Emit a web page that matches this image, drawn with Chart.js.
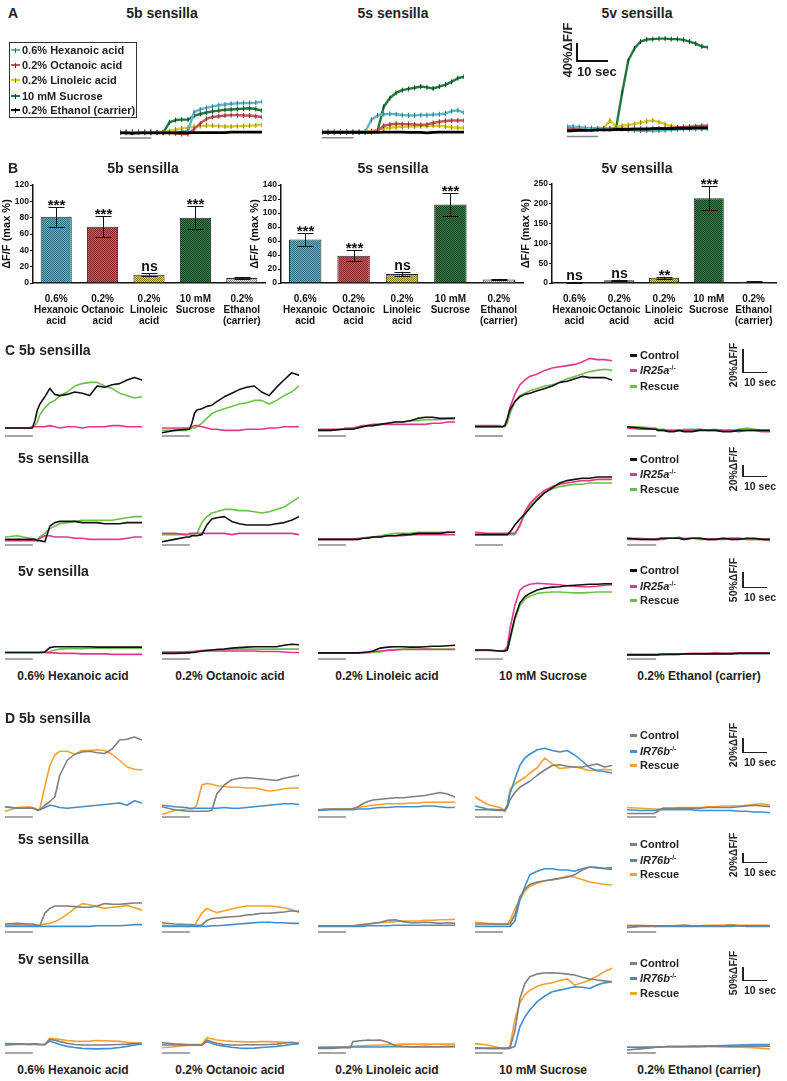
<!DOCTYPE html>
<html>
<head>
<meta charset="utf-8">
<script src="https://cdn.jsdelivr.net/npm/chart.js@4.4.0/dist/chart.umd.min.js"></script>
<style>
  body { margin: 0; width: 787px; height: 1081px; position: relative; background: #fff; overflow: hidden;
         font-family: "Liberation Sans", Arial, sans-serif; color: #222; }
  canvas { position: absolute; }
  .lbl { position: absolute; font-weight: bold; white-space: nowrap; line-height: 1; z-index: 2; }
  .lbl sup { font-size: 0.6em; vertical-align: 0.5em; }
  .rect { position: absolute; z-index: 2; }
</style>
</head>
<body>
<script>
// ---------- time axes (seconds) ----------
const timeA = [0, 2, 4, 6, 8, 10, 12, 14, 16, 18, 20, 22, 24, 26, 28, 30, 32, 34, 36, 38, 40, 42, 44, 46];
const timeTrace = [0, 5, 10, 11, 12, 13, 14, 16, 18, 20, 22, 25, 28, 31, 34, 37, 40, 43, 46, 49, 52, 55];
const stimWindowA = [0, 10];
const stimWindowTrace = [0, 11];

// ---------- panel A: mean traces (dF/F %) ----------
const stimulusNames = ['0.6% Hexanoic acid', '0.2% Octanoic acid', '0.2% Linoleic acid', '10 mM Sucrose', '0.2% Ethanol (carrier)'];
const a5bHex = [2, 2, 2, 2, 2, 2, 1, 2, 1, 2, 3, 5, 55, 62, 66, 70, 73, 75, 77, 78, 79, 79, 80, 82];
const a5bOct = [2, 2, 2, 2, 2, 2, 1, 1, 0, -1, -3, -3, 10, 25, 37, 42, 44, 46, 47, 47, 46, 46, 44, 42];
const a5bLin = [0, 0, 0, 0, 0, 0, 0, 2, 5, 9, 12, 14, 16, 18, 20, 19, 18, 17, 17, 18, 18, 19, 20, 21];
const a5bSuc = [2, 2, 2, 2, 2, 2, 2, 0, 28, 34, 35, 35, 45, 50, 54, 57, 59, 61, 62, 63, 64, 65, 63, 59];
const a5bEth = [0, 0, -1, 0, 0, 0, 0, 0, 0, 0, 1, 0, 1, 1, 1, 1, 1, 1, 2, 2, 2, 2, 2, 2];

const a5sHex = [1, 1, 1, 1, 1, 1, 1, 1, 32, 43, 46, 47, 46, 44, 43, 43, 44, 44, 45, 46, 48, 54, 56, 50];
const a5sOct = [1, 1, 1, 1, 1, 1, 1, 1, 1, 5, 17, 20, 22, 21, 21, 20, 19, 20, 24, 27, 29, 30, 30, 30];
const a5sLin = [0, 0, 0, 0, 0, 0, 0, 2, 4, 7, 10, 12, 13, 14, 15, 15, 16, 16, 17, 17, 15, 13, 12, 12];
const a5sSuc = [1, 1, 1, 1, 1, 1, 1, 1, 1, 5, 65, 87, 100, 107, 110, 113, 116, 114, 111, 116, 121, 128, 137, 141];
const a5sEth = [0, 0, 0, 0, 0, 0, 0, 0, 0, 0, 1, 1, 1, 1, 0, 0, 0, -1, 0, 1, 1, 1, 1, 1];

const a5vHex = [7, 6, 5, 3, 2, 1, 1, 1, 1, 0, -2, -3, -4, -4, -4, -4, -3, -2, -1, 0, 0, 0, 0, 0];
const a5vOct = [2, 2, 2, 1, 1, 1, 1, 1, 1, 1, 1, 1, 1, 1, 1, 2, 2, 3, 4, 5, 6, 7, 8, 8];
const a5vLin = [0, 0, 0, 0, 0, 0, 2, 21, 5, 8, 10, 12, 16, 19, 21, 17, 12, 7, 4, 3, 2, 2, 2, 2];
const a5vSuc = [0, 0, 0, 0, 0, 0, 0, 0, 2, 88, 166, 195, 212, 217, 218, 219, 219, 218, 218, 216, 212, 207, 200, 198];
const a5vEth = [-4, -4, -3, -3, -3, -2, -2, -2, -1, -1, -1, 0, 0, 0, 1, 1, 1, 1, 2, 2, 2, 3, 3, 3];

// ---------- panel B: max dF/F (%) ----------
const barLabels = [['0.6%', 'Hexanoic', 'acid'], ['0.2%', 'Octanoic', 'acid'], ['0.2%', 'Linoleic', 'acid'], ['10 mM', 'Sucrose'], ['0.2%', 'Ethanol', '(carrier)']];
const b5bMean = [81, 69, 10, 80, 6];
const b5bSem = [12, 12.5, 2, 14, 1];
const b5bSig = ['***', '***', 'ns', '***', ''];
const b5sMean = [62, 39, 13, 112, 5];
const b5sSem = [9, 7.5, 3, 16, 1];
const b5sSig = ['***', '***', 'ns', '***', ''];
const b5vMean = [2, 7, 13, 214, 3];
const b5vSem = [1, 1.5, 3, 30, 1];
const b5vSig = ['ns', 'ns', '**', '***', ''];

// ---------- panel C: Control / IR25a-/- / Rescue (one sub-array per stimulus) ----------
const c5bControl = [
  [0, 0, 0, 0, 6, 15, 20, 26, 33, 28, 27, 28, 30, 29, 27, 35, 34, 36, 37, 40, 42, 40],
  [-4, -2, -1, -1, 4, 12, 15, 16, 18, 19, 22, 26, 29, 32, 34, 35, 30, 27, 34, 40, 46, 44],
  [-2, -2, -1, -1, -1, -1, -1, 0, 1, 2, 2, 3, 4, 5, 5, 6, 8, 9, 9, 8, 8, 8],
  [1, 1, 1, 1, 2, 8, 15, 22, 26, 28, 29, 31, 33, 35, 38, 39, 41, 43, 42, 42, 42, 40],
  [1, 0, -1, -1, -2, -2, -2, -3, -3, -2, -3, -3, -2, -2, -2, -3, -3, -2, -2, -2, -2, -2]
];
const c5bMutant = [
  [0, 0, 0, 1, 1, 1, 1, 1, 2, 1, 0, 1, 1, 0, 1, 1, 1, 2, 2, 1, 1, 1],
  [0, 0, 0, 0, 1, 2, 2, 1, 0, -1, -1, -2, -2, -2, -1, -1, -1, 0, 0, 1, 1, 1],
  [-1, -1, -1, 0, 0, 0, 0, 1, 2, 2, 3, 3, 3, 3, 3, 3, 3, 3, 4, 4, 5, 5],
  [2, 2, 2, 1, 2, 8, 17, 28, 36, 40, 43, 45, 48, 50, 51, 52, 53, 55, 58, 57, 57, 56],
  [0, -1, -1, -1, -2, -2, -2, -2, -2, -2, -2, -2, -1, -2, -2, -2, -2, -3, -2, -2, -3, -3]
];
const c5bRescue = [
  [0, 0, 0, 1, 2, 5, 11, 17, 21, 23, 27, 30, 35, 37, 38, 38, 35, 33, 29, 27, 25, 26],
  [-2, -2, -2, -1, 0, 0, 1, 4, 8, 12, 14, 16, 18, 20, 21, 23, 23, 20, 23, 27, 30, 35],
  [-2, -2, -1, -1, -1, -1, 0, 0, 1, 2, 2, 3, 4, 5, 5, 6, 6, 7, 7, 7, 8, 8],
  [1, 1, 1, 1, 1, 4, 12, 22, 27, 29, 31, 33, 35, 36, 38, 41, 43, 45, 47, 48, 49, 48],
  [1, 1, 0, 0, -1, -1, -1, -2, -2, -2, -1, -1, -1, -2, -1, -2, -2, -1, 0, -1, -2, -2]
];
const c5sControl = [
  [-2, -2, -2, -2, -2, -3, -3, -4, 9, 12, 13, 13, 13, 12, 12, 12, 11, 11, 11, 12, 12, 12],
  [-4, -2, 0, 0, 1, 1, 1, 2, 10, 15, 16, 17, 13, 11, 10, 10, 10, 10, 11, 12, 14, 17],
  [-2, -2, -2, -2, -2, -2, -2, -2, -1, -1, 0, 0, 1, 1, 2, 2, 3, 3, 3, 3, 4, 4],
  [2, 2, 2, 2, 2, 2, 4, 10, 15, 19, 24, 31, 37, 41, 45, 47, 48, 49, 49, 50, 50, 50],
  [-1, -2, -2, -2, -2, -1, -1, -1, -1, -1, -2, -1, -1, -2, -2, -1, -2, -2, -1, -1, -2, -2]
];
const c5sMutant = [
  [-3, -3, -3, -3, -3, -3, -1, 1, 1, 0, 0, 0, -1, -1, -2, -2, -2, -2, -2, -1, 0, 0],
  [3, 3, 2, 3, 3, 3, 3, 3, 3, 3, 3, 3, 2, 3, 3, 3, 3, 3, 3, 3, 3, 2],
  [-2, -2, -2, -2, -2, -2, -2, -2, -1, -1, 0, 0, 1, 1, 1, 2, 2, 2, 2, 2, 2, 2],
  [4, 3, 3, 3, 3, 3, 3, 3, 10, 21, 28, 34, 39, 42, 44, 45, 46, 47, 47, 48, 48, 48],
  [-2, -2, -2, -2, -2, -2, -2, -1, -1, -1, -2, -1, -1, -2, -2, -2, -1, -1, -2, -2, -2, -2]
];
const c5sRescue = [
  [0, 1, -1, -1, -2, -2, 0, 3, 7, 9, 11, 12, 13, 14, 14, 14, 14, 14, 15, 16, 17, 17],
  [2, 2, 2, 2, 2, 2, 3, 12, 17, 20, 21, 23, 23, 22, 22, 21, 20, 21, 23, 25, 29, 33],
  [-2, -2, -2, -2, -2, -2, -2, -1, -1, 0, 0, 1, 2, 3, 3, 3, 4, 4, 4, 4, 4, 4],
  [2, 2, 2, 2, 2, 2, 2, 2, 9, 19, 26, 32, 37, 40, 42, 43, 44, 44, 45, 45, 45, 45],
  [-1, -1, -2, -2, -1, -1, -1, -1, -1, 0, -1, -1, -2, -2, -2, -1, -1, -1, -2, -2, -2, -3]
];
const c5vControl = [
  [-3, -3, -3, -3, -3, -3, -3, -2, 7, 9, 9, 9, 9, 9, 9, 8, 8, 8, 8, 8, 8, 8],
  [-5, -5, -4, -4, -3, -3, -2, 0, 1, 2, 3, 4, 6, 7, 8, 9, 9, 9, 9, 12, 14, 13],
  [-4, -4, -4, -4, -4, -4, -4, -4, -3, -2, 0, 6, 8, 9, 9, 8, 8, 9, 10, 10, 11, 12],
  [2, 2, 0, 0, 0, 2, 25, 70, 100, 113, 120, 127, 131, 133, 134, 136, 137, 138, 139, 139, 140, 140],
  [-8, -8, -8, -8, -8, -7, -7, -7, -7, -7, -6, -6, -6, -6, -6, -6, -6, -5, -5, -5, -5, -5]
];
const c5vMutant = [
  [-3, -3, -3, -3, -3, -3, -3, -3, -4, -4, -5, -5, -5, -6, -6, -6, -6, -7, -7, -7, -7, -7],
  [-2, -2, -2, -1, -1, -1, 0, 0, 0, 0, 0, 0, 0, 0, 0, 0, -1, -1, -1, -2, -3, -3],
  [-4, -4, -4, -4, -4, -4, -4, -4, -3, -2, -1, 0, 1, 2, 3, 3, 3, 4, 3, 3, 3, 3],
  [1, 2, 0, 0, 2, 10, 45, 95, 127, 135, 139, 141, 140, 139, 138, 136, 135, 134, 134, 135, 137, 138],
  [-7, -7, -7, -7, -7, -7, -7, -6, -6, -6, -6, -5, -5, -5, -4, -5, -5, -4, -4, -4, -4, -4]
];
const c5vRescue = [
  [-3, -3, -3, -3, -3, -3, -3, -3, -1, 2, 4, 5, 5, 5, 6, 6, 6, 6, 6, 6, 6, 6],
  [-3, -3, -2, -2, -2, -1, 0, 1, 2, 2, 3, 3, 3, 4, 4, 4, 4, 4, 4, 4, 4, 4],
  [-4, -4, -4, -4, -4, -4, -4, -4, -4, -4, -3, -2, 2, 3, 4, 4, 4, 4, 4, 4, 4, 4],
  [1, 1, 0, 0, 0, 2, 22, 65, 95, 108, 114, 120, 122, 123, 123, 122, 121, 121, 122, 123, 123, 123],
  [-8, -8, -8, -8, -7, -7, -7, -7, -7, -6, -6, -6, -6, -6, -6, -5, -5, -5, -5, -5, -5, -5]
];

// ---------- panel D: Control / IR76b-/- / Rescue ----------
const d5bControl = [
  [3, 1, 1, 1, 1, -2, -1, 5, 10, 16, 45, 65, 73, 76, 77, 75, 74, 80, 92, 93, 96, 92],
  [3, -1, -3, -3, -3, -3, -3, -3, -3, -2, 20, 32, 39, 41, 42, 41, 40, 39, 38, 41, 43, 45],
  [-1, 0, 0, 0, 0, 0, 0, 3, 7, 10, 12, 13, 14, 15, 15, 16, 17, 18, 20, 22, 20, 16],
  [-1, -1, -2, -2, -2, 2, 12, 22, 29, 33, 37, 45, 52, 58, 59, 57, 56, 56, 58, 60, 56, 58],
  [-6, -6, -6, -5, -3, 0, 1, 1, 1, 1, 1, 1, 1, 2, 2, 2, 2, 3, 4, 5, 4, 3]
];
const d5bMutant = [
  [3, 1, 1, 1, 0, -1, -1, 2, 5, 4, 2, 1, 2, 3, 4, 5, 6, 7, 8, 5, 11, 8],
  [5, 3, 2, 1, 1, 1, 1, 1, 1, 1, 1, 2, 1, 1, 2, 3, 4, 5, 6, 7, 7, 6],
  [-2, -1, -1, -1, -1, -1, -1, 0, 0, 0, 1, 2, 2, 3, 3, 3, 3, 4, 4, 3, 2, 2],
  [4, 0, -1, -1, -1, 5, 20, 40, 58, 68, 73, 79, 81, 78, 76, 78, 72, 64, 55, 51, 50, 48],
  [-1, -2, -2, -2, -1, -1, -1, -1, -1, -1, -1, -1, -2, -2, -2, -2, -2, -3, -3, -4, -4, -5]
];
const d5bRescue = [
  [-3, 2, 3, 2, 0, -1, 0, 30, 58, 72, 77, 77, 73, 78, 78, 79, 78, 73, 65, 56, 53, 52],
  [-7, -2, 0, 0, 0, 1, 6, 32, 34, 33, 31, 30, 29, 29, 28, 28, 26, 24, 25, 27, 28, 28],
  [-1, 0, 0, 0, 0, 0, 1, 2, 3, 4, 5, 6, 7, 7, 7, 8, 8, 9, 9, 9, 9, 9],
  [16, 6, 2, 0, -4, 5, 26, 33, 38, 42, 48, 55, 68, 60, 54, 55, 56, 54, 51, 52, 53, 52],
  [2, 1, 0, 0, 0, 0, 1, 1, 1, 2, 2, 2, 2, 3, 3, 4, 4, 4, 5, 6, 7, 5]
];
const d5sControl = [
  [0, 1, 0, 0, -1, -2, -3, 18, 26, 30, 30, 30, 29, 28, 28, 30, 34, 33, 33, 34, 35, 35],
  [2, 0, -1, -1, -1, -2, -2, -2, 6, 9, 10, 11, 12, 13, 15, 16, 18, 18, 19, 20, 22, 21],
  [-3, -3, -3, -3, -3, -3, -3, -2, -1, 0, 1, 3, 6, 7, 4, 2, 2, 3, 2, 1, 2, 1],
  [0, 0, 0, 0, 0, 0, 0, 15, 45, 58, 66, 70, 72, 74, 76, 78, 82, 90, 95, 94, 93, 94],
  [-6, -4, -4, -4, -3, -3, -3, -3, -3, -3, -2, -3, -3, -3, -3, -3, -2, -3, -3, -3, -3, -3]
];
const d5sMutant = [
  [-4, -4, -4, -4, -4, -4, -4, -4, -4, -4, -4, -4, -4, -4, -4, -3, -3, -3, -3, -2, -1, -1],
  [-4, -4, -4, -4, -4, -4, -4, -4, -4, -3, -3, -2, -1, 0, 1, 2, 3, 3, 2, 2, 1, 1],
  [-4, -4, -4, -4, -4, -4, -4, -4, -4, -3, -3, -3, -3, -2, -2, -2, -2, -2, -2, -2, -2, -2],
  [-4, -4, -4, -4, -4, -4, -4, 5, 40, 62, 82, 88, 92, 92, 90, 90, 88, 92, 95, 94, 92, 91],
  [-3, -3, -3, -4, -4, -4, -4, -4, -4, -4, -4, -4, -4, -4, -4, -4, -4, -3, -4, -4, -4, -4]
];
const d5sRescue = [
  [-2, -1, -2, -2, -2, -2, -2, 0, 1, 4, 8, 16, 26, 34, 32, 29, 26, 28, 29, 31, 27, 23],
  [-2, -3, -4, -4, -3, -3, 5, 18, 26, 22, 19, 22, 25, 28, 30, 30, 30, 30, 29, 27, 24, 19],
  [-3, -3, -3, -3, -3, -3, -3, -2, -1, 0, 1, 2, 3, 4, 5, 5, 5, 6, 6, 7, 7, 8],
  [3, 1, 0, 0, 0, 0, 5, 25, 40, 55, 63, 68, 72, 74, 76, 80, 78, 74, 70, 68, 66, 65],
  [-2, -2, -3, -3, -3, -3, -3, -3, -3, -2, -2, -3, -3, -2, -2, -2, -1, -2, -2, -2, -2, -2]
];
const d5vControl = [
  [5, 4, 2, 3, 4, 3, 2, 1, 20, 17, 12, 6, 2, 0, 0, 0, 0, 1, 2, 3, 5, 6],
  [8, 4, 2, 2, 1, 1, 0, 0, 18, 12, 6, 2, 0, 0, 1, 1, 1, 2, 3, 6, 10, 6],
  [-12, -12, -10, -10, -10, -10, 12, 14, 16, 18, 17, 18, 10, -3, -5, -6, -6, -5, -6, -6, -5, -5],
  [-10, -12, -12, -12, -12, -12, -12, 50, 165, 220, 244, 254, 257, 258, 256, 253, 250, 242, 236, 232, 229, 226],
  [-18, -14, -10, -8, -7, -6, -6, -5, -5, -5, -5, -5, -5, -4, -4, -4, -4, -4, -4, -4, -4, -4]
];
const d5vMutant = [
  [4, 3, 2, 2, 3, 2, 2, 2, 14, 8, 2, -5, -9, -12, -13, -14, -13, -12, -9, -5, 0, 4],
  [0, 0, 0, 0, 0, 0, 0, 0, 12, 6, 0, -4, -8, -11, -12, -11, -9, -7, -5, -2, 2, 5],
  [-8, -8, -8, -8, -8, -7, -7, -7, -7, -7, -7, -7, -6, -6, -6, -6, -6, -6, -6, -6, -6, -6],
  [-12, -12, -12, -12, -12, -12, -12, -5, 65, 100, 125, 155, 175, 190, 196, 202, 208, 206, 202, 214, 222, 226],
  [-8, -8, -7, -7, -7, -7, -6, -6, -6, -6, -6, -5, -5, -4, -3, -2, -1, 0, 1, 2, 2, 2]
];
const d5vRescue = [
  [-2, 2, 4, 4, 4, 3, 2, 2, 24, 22, 20, 16, 14, 13, 14, 16, 15, 14, 13, 10, 8, 6],
  [-10, -6, -2, 0, 2, 2, 2, 2, 26, 22, 18, 15, 13, 12, 11, 11, 12, 12, 11, 10, 8, 6],
  [-10, -8, -6, -6, -6, -5, -5, -4, -3, -2, -1, 0, 1, 2, 3, 3, 3, 3, 3, 3, 3, 3],
  [5, 0, -10, -12, -12, -10, -5, 90, 150, 180, 195, 210, 218, 222, 230, 236, 214, 222, 232, 246, 262, 274],
  [-8, -8, -7, -7, -7, -6, -6, -6, -6, -6, -6, -6, -6, -6, -6, -7, -8, -8, -9, -10, -12, -14]
];

// ---------- colours ----------
const stimColors = ['#5fb4c9', '#c0555a', '#d8cb2a', '#1d7a3d', '#000000'];
const stimTickColors = ['#2c7488', '#82282d', '#8f850c', '#0b4420', '#000000'];
const barColors = [['#62b2c4', '#2b6f80'], ['#c35c5c', '#862a2d'], ['#d9d042', '#88800c'], ['#2b8149', '#0c4520'], ['#e2e2e2', '#999999']];
const colorsC = ['#111111', '#e2378d', '#6cc04a'];
const colorsD = ['#7f7f7f', '#3f8ed0', '#f5a030'];
const stimBarColor = '#8a8a8a';
const FONT = '"Liberation Sans", Arial, sans-serif';

// ---------- helpers ----------
function makeCanvas(left, top, width, height) {
  const c = document.createElement('canvas');
  c.width = width; c.height = height;
  c.style.left = left + 'px'; c.style.top = top + 'px';
  c.style.width = width + 'px'; c.style.height = height + 'px';
  document.body.appendChild(c);
  return c;
}

function addText(html, x, y, size, mode) {
  const d = document.createElement('div');
  d.className = 'lbl';
  d.innerHTML = html;
  d.style.left = x + 'px';
  d.style.top = y + 'px';
  d.style.fontSize = size + 'px';
  if (mode === 'c') d.style.transform = 'translate(-50%,-50%)';
  else if (mode === 'rot') d.style.transform = 'translate(-50%,-50%) rotate(-90deg)';
  else d.style.transform = 'translate(0,-50%)';
  document.body.appendChild(d);
  return d;
}

function addRect(x, y, w, h, color) {
  const d = document.createElement('div');
  d.className = 'rect';
  d.style.left = x + 'px'; d.style.top = y + 'px';
  d.style.width = w + 'px'; d.style.height = h + 'px';
  d.style.background = color;
  document.body.appendChild(d);
  return d;
}

// one small trace plot: lines in data units, placed so that refY is 0 %
function traceChart(box, times, xMax, series, colors, lineWidth, stimWindow, stimOffsetPx, extra) {
  const { left, top, width, height, refY, px } = box;
  const yMax = (refY - top) / px;
  const yMin = -(top + height - refY) / px;
  const stimY = -stimOffsetPx / px;
  const datasets = series.map((vals, i) => Object.assign({
    data: times.map((t, j) => ({ x: t, y: vals[j] })),
    borderColor: colors[i],
    borderWidth: lineWidth,
    pointRadius: 0,
    order: i
  }, extra ? extra(i) : {}));
  datasets.push({
    data: stimWindow.map(t => ({ x: t, y: stimY })),
    borderColor: stimBarColor,
    borderWidth: 1.5,
    pointRadius: 0,
    order: 99
  });
  new Chart(makeCanvas(left, top, width, height), {
    type: 'line',
    data: { datasets },
    options: {
      responsive: false, animation: false, devicePixelRatio: 1, events: [],
      layout: { padding: 0 },
      plugins: { legend: { display: false }, tooltip: { enabled: false } },
      elements: { line: { tension: 0, borderJoinStyle: 'round', borderCapStyle: 'round' } },
      scales: {
        x: { type: 'linear', display: false, min: 0, max: xMax },
        y: { type: 'linear', display: false, min: yMin, max: yMax }
      }
    }
  });
}

function makePattern(pair) {
  const c = document.createElement('canvas');
  c.width = 2; c.height = 2;
  const g = c.getContext('2d');
  g.fillStyle = pair[0]; g.fillRect(0, 0, 2, 2);
  g.fillStyle = pair[1]; g.fillRect(0, 0, 1, 1); g.fillRect(1, 1, 1, 1);
  return g.createPattern(c, 'repeat');
}

const errorBarPlugin = {
  id: 'errorBars',
  afterDatasetsDraw(chart, args, opts) {
    const ctx = chart.ctx;
    const y = chart.scales.y;
    const meta = chart.getDatasetMeta(0);
    const means = chart.data.datasets[0].data;
    ctx.save();
    ctx.strokeStyle = '#111';
    ctx.lineWidth = 1;
    ctx.fillStyle = '#111';
    ctx.textAlign = 'center';
    ctx.textBaseline = 'alphabetic';
    meta.data.forEach((bar, i) => {
      const hi = y.getPixelForValue(means[i] + opts.errors[i]);
      const lo = y.getPixelForValue(Math.max(0, means[i] - opts.errors[i]));
      const cx = Math.round(bar.x) + 0.5;
      ctx.beginPath();
      ctx.moveTo(cx, hi); ctx.lineTo(cx, lo);
      ctx.moveTo(cx - 8, Math.round(hi) + 0.5); ctx.lineTo(cx + 8, Math.round(hi) + 0.5);
      ctx.moveTo(cx - 8, Math.round(lo) + 0.5); ctx.lineTo(cx + 8, Math.round(lo) + 0.5);
      ctx.stroke();
      const sig = opts.labels[i];
      if (sig) {
        ctx.font = (sig === 'ns' ? 'bold 14px ' : 'bold 15px ') + FONT;
        ctx.fillText(sig, cx, hi - (sig === 'ns' ? 2 : -3));
      }
    });
    ctx.restore();
  }
};

function barChart(left, top, width, height, padTop, yMax, step, means, sems, sigs) {
  new Chart(makeCanvas(left, top, width, height), {
    type: 'bar',
    data: {
      labels: barLabels,
      datasets: [{
        data: means,
        backgroundColor: barColors.map(makePattern),
        borderColor: '#2a2a2a',
        borderWidth: 1,
        borderSkipped: 'bottom',
        barPercentage: 0.67,
        categoryPercentage: 1
      }]
    },
    options: {
      responsive: false, animation: false, devicePixelRatio: 1, events: [],
      layout: { padding: { top: padTop, right: 5, left: 0, bottom: 0 } },
      plugins: {
        legend: { display: false }, tooltip: { enabled: false },
        errorBars: { errors: sems, labels: sigs }
      },
      scales: {
        x: {
          grid: { display: false },
          border: { color: '#111', width: 1.5 },
          ticks: { color: '#111', padding: 3, maxRotation: 0, autoSkip: false,
                   font: { family: FONT, size: 10, weight: 'bold', lineHeight: 1.08 } },
          afterFit: s => { s.height = 45; }
        },
        y: {
          min: 0, max: yMax,
          ticks: { stepSize: step, color: '#111', padding: 1, font: { family: FONT, size: 8.5, weight: 'bold' } },
          grid: { drawOnChartArea: false, drawTicks: true, tickLength: 3, color: '#111', lineWidth: 1 },
          border: { color: '#111', width: 1.5 },
          title: { display: true, text: 'ΔF/F (max %)', color: '#111', padding: 0,
                   font: { family: FONT, size: 11, weight: 'bold' } },
          afterFit: s => { s.width = 33; }
        }
      }
    },
    plugins: [errorBarPlugin]
  });
}

// ---------- panel A ----------
addText('A', 8, 13, 14);
addText('5b sensilla', 162, 13, 14, 'c');
addText('5s sensilla', 393, 13, 14, 'c');
addText('5v sensilla', 637, 13, 14, 'c');

const legA = addRect(9, 42, 126, 74, 'transparent');
legA.style.border = '1px solid #333';
stimulusNames.forEach((name, i) => {
  const yy = [50, 65, 80, 96, 110][i];
  addRect(11, yy - 1, 9, 2, stimColors[i]);
  addRect(15, yy - 2.5, 1, 5, stimTickColors[i]);
  addText(name, 22, yy, 11);
});

const tickPoints = i => ({
  pointRadius: i === 4 ? 0 : 2.5, pointStyle: 'line', rotation: 90,
  pointBorderColor: stimTickColors[i], pointBorderWidth: 1,
  borderWidth: i === 4 ? 2.8 : 2.4, order: i === 4 ? 0 : i + 1
});
traceChart({ left: 115, top: 85, width: 152, height: 63, refY: 136, px: 0.45 }, timeA, 46,
  [a5bHex, a5bOct, a5bLin, a5bSuc, a5bEth], stimColors, 2.2, stimWindowA, 6, tickPoints);
traceChart({ left: 317, top: 65, width: 152, height: 83, refY: 136, px: 0.45 }, timeA, 46,
  [a5sHex, a5sOct, a5sLin, a5sSuc, a5sEth], stimColors, 2.2, stimWindowA, 6, tickPoints);
traceChart({ left: 562, top: 25, width: 151, height: 121, refY: 133, px: 0.45 }, timeA, 46,
  [a5vHex, a5vOct, a5vLin, a5vSuc, a5vEth], stimColors, 2.2, stimWindowA, 8, tickPoints);

// scale bar for panel A
addRect(576, 43, 1.5, 18, '#111');
addRect(576, 60, 32, 1.5, '#111');
addText('40%ΔF/F', 567, 50, 13, 'rot');
addText('10 sec', 577, 71, 13);

// ---------- panel B ----------
addText('B', 8, 168, 14);
addText('5b sensilla', 143, 168, 14, 'c');
addText('5s sensilla', 393, 168, 14, 'c');
addText('5v sensilla', 637, 168, 14, 'c');
barChart(0, 178, 270, 150, 7, 120, 20, b5bMean, b5bSem, b5bSig);
barChart(248, 178, 280, 150, 7, 140, 20, b5sMean, b5sSem, b5sSig);
barChart(519, 177, 262, 151, 7, 250, 50, b5vMean, b5vSem, b5vSig);

// ---------- panels C and D: small trace grids ----------
const colLeft = [5, 162, 318, 475, 627];
const colWidth = [137, 137, 137, 137, 143];
const colCenter = [73, 230, 387, 543, 699];

function traceRow(rowBox, controls, mutants, rescues, colors) {
  for (let k = 0; k < 5; k++) {
    traceChart({ left: colLeft[k], top: rowBox.top, width: colWidth[k], height: rowBox.bottom - rowBox.top,
                 refY: rowBox.refY, px: rowBox.px },
      timeTrace, 55, [controls[k], mutants[k], rescues[k]], colors, 1.6, stimWindowTrace, 8);
  }
}

function rowLegend(ys, colors, mutantHtml) {
  const names = ['Control', mutantHtml, 'Rescue'];
  names.forEach((n, i) => {
    addRect(630, ys[i] - 1, 7, 2.5, colors[i]);
    addText(n, 640, ys[i], 11);
  });
}

function scaleBar(vTop, vLen, pct) {
  addRect(742, vTop, 1.5, vLen, '#222');
  addRect(742, vTop + vLen - 1.5, 25, 1.5, '#222');
  addText(pct + '%ΔF/F', 733, vTop + vLen - 8, 10.5, 'rot');
  addText('10 sec', 744, vTop + vLen + 9, 10.5);
}

// C
addText('C 5b sensilla', 5, 350, 14);
addText('5s sensilla', 18, 458, 14);
addText('5v sensilla', 18, 571, 14);
traceRow({ top: 350, bottom: 442, refY: 428, px: 1.2 }, c5bControl, c5bMutant, c5bRescue, colorsC);
traceRow({ top: 466, bottom: 551, refY: 537, px: 1.2 }, c5sControl, c5sMutant, c5sRescue, colorsC);
traceRow({ top: 575, bottom: 665, refY: 651, px: 0.48 }, c5vControl, c5vMutant, c5vRescue, colorsC);
const ir25 = '<i>IR25a</i><sup>-/-</sup>';
rowLegend([355, 370, 386], colorsC, ir25);
rowLegend([459, 474, 489], colorsC, ir25);
rowLegend([570, 586, 600], colorsC, ir25);
scaleBar(349, 24, 20);
scaleBar(465, 12, 20);
scaleBar(572, 16, 50);
stimulusNames.forEach((n, k) => addText(n, colCenter[k], 676, 12, 'c'));

// D
addText('D 5b sensilla', 5, 718, 14);
addText('5s sensilla', 18, 839, 14);
addText('5v sensilla', 18, 959, 14);
traceRow({ top: 725, bottom: 823, refY: 809, px: 0.75 }, d5bControl, d5bMutant, d5bRescue, colorsD);
traceRow({ top: 858, bottom: 938, refY: 924, px: 0.6 }, d5sControl, d5sMutant, d5sRescue, colorsD);
traceRow({ top: 960, bottom: 1059, refY: 1045, px: 0.28 }, d5vControl, d5vMutant, d5vRescue, colorsD);
const ir76 = '<i>IR76b</i><sup>-/-</sup>';
rowLegend([735, 751, 765], colorsD, ir76);
rowLegend([844, 860, 874], colorsD, ir76);
rowLegend([963, 978, 993], colorsD, ir76);
scaleBar(738, 15, 20);
scaleBar(853, 10, 20);
scaleBar(967, 14, 50);
stimulusNames.forEach((n, k) => addText(n, colCenter[k], 1070, 12, 'c'));
</script>
</body>
</html>
